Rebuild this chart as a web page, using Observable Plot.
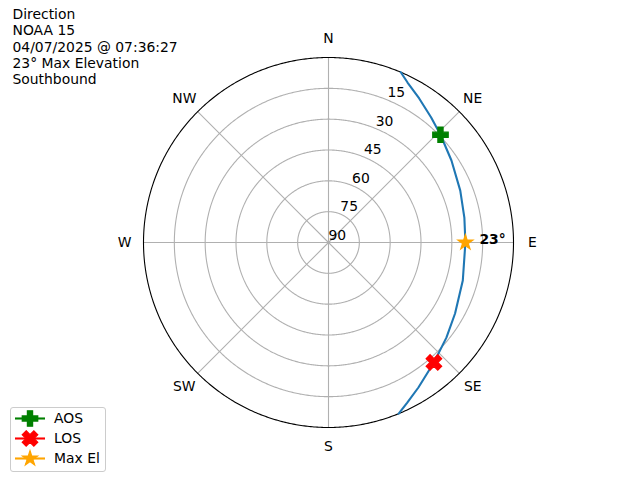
<!DOCTYPE html>
<html><head><meta charset="utf-8">
<script src="https://cdn.jsdelivr.net/npm/d3@7"></script>
<script src="https://cdn.jsdelivr.net/npm/@observablehq/plot@0.6"></script>
<style>
body{margin:0;background:#fff;font-family:"DejaVu Sans",sans-serif;}
#wrap{position:relative;width:640px;height:480px;overflow:hidden;}
#legend{position:absolute;left:10px;top:406.5px;width:96px;height:65px;border:1px solid #cccccc;border-radius:3px;background:rgba(255,255,255,0.8);box-sizing:border-box;font-size:13.9px;color:#000;}
#legend svg{position:absolute;left:3px;top:0;}
#legend span{position:absolute;left:43px;line-height:20px;white-space:nowrap;}
</style></head><body><div id="wrap"></div>
<script>
// ---- data ----
const titleLines = ["Direction", "NOAA 15", "04/07/2025 @ 07:36:27", "23° Max Elevation", "Southbound"];
const trackAz = [23.0, 26.3, 32.2, 39.4, 46.1, 56.3, 68.5, 79.6, 90.0, 105.8, 119.3, 128.9, 138.7, 148.2, 153.8, 157.7];
const trackEl = [0.0, 3.2, 7.2, 11.3, 14.4, 18.1, 21.1, 22.8, 23.4, 22.1, 19.4, 16.3, 12.3, 7.0, 3.2, 0.0];
const eventNames = ["AOS", "LOS", "Max El"];
const eventAz = [46.1, 138.7, 90.0];
const eventEl = [14.4, 12.3, 23.4];
const eventColors = ["green", "red", "orange"];
const ringEl = [75, 60, 45, 30, 15];
const radialLabelEl = [90, 75, 60, 45, 30, 15];
const compassNames = ["N", "NE", "E", "SE", "S", "SW", "W", "NW"];
const compassAz = [0, 45, 90, 135, 180, 225, 270, 315];
const maxElLabel = "23°";

// ---- marker shapes (matplotlib-like filled plus, filled X, star) ----
function poly(ctx, pts){ ctx.moveTo(pts[0][0], pts[0][1]); for (let i = 1; i < pts.length; i++) ctx.lineTo(pts[i][0], pts[i][1]); ctx.closePath(); }
const plusFilled = {draw(ctx, size){ const s = Math.sqrt(size/Math.PI), a = s/3;
  poly(ctx, [[-a,-s],[a,-s],[a,-a],[s,-a],[s,a],[a,a],[a,s],[-a,s],[-a,a],[-s,a],[-s,-a],[-a,-a]]); }};
const xFilled = {draw(ctx, size){ const k = Math.sqrt(size/Math.PI)/2;
  poly(ctx, [[-1,-2],[0,-1],[1,-2],[2,-1],[1,0],[2,1],[1,2],[0,1],[-1,2],[-2,1],[-1,0],[-2,-1]].map(([x,y]) => [x*k, y*k])); }};
const starFilled = {draw(ctx, size){ const s = Math.sqrt(size/Math.PI), inner = 0.381966*s; const pts = [];
  for (let i = 0; i < 10; i++){ const r = i % 2 ? inner : s; const a = -Math.PI/2 + i*Math.PI/5; pts.push([r*Math.cos(a), r*Math.sin(a)]); }
  poly(ctx, pts); }};
const eventSymbols = [plusFilled, xFilled, starFilled];
const markerR = 7.7;

// ---- tables ----
const track = trackAz.map((az, i) => ({az, el: trackEl[i]}));
const events = eventNames.map((name, i) => ({name, az: eventAz[i], el: eventEl[i], color: eventColors[i], symbol: eventSymbols[i]}));
const circle = r => d3.geoCircle().center([0, 90]).radius(r).precision(0.5)();

const projection = {
  type: () => d3.geoAzimuthalEquidistant().rotate([180, -90]),
  domain: circle(90),
  clip: false
};

const fs = 13.9;
const chart = Plot.plot({
  width: 640, height: 480,
  marginLeft: 143, marginRight: 127, marginTop: 57, marginBottom: 53,
  projection,
  style: {fontFamily: "DejaVu Sans", fontSize: fs + "px", background: "white"},
  marks: [
    Plot.geo(ringEl.map(e => circle(90 - e)), {stroke: "#b0b0b0", strokeWidth: 1.1, fill: "none"}),
    Plot.link(compassAz, {x1: d => -d, y1: 90, x2: d => -d, y2: 0, stroke: "#b0b0b0", strokeWidth: 1.1}),
    Plot.geo([circle(90)], {stroke: "black", strokeWidth: 1.1, fill: "none"}),
    Plot.line(track, {x: d => -d.az, y: "el", stroke: "#1f77b4", strokeWidth: 2.1}),
    ...events.map(ev => Plot.dot([ev], {x: d => -d.az, y: "el", symbol: ev.symbol, r: markerR, fill: ev.color, stroke: ev.color, strokeWidth: 1.3})),
    Plot.text(compassNames, {x: (d, i) => -compassAz[i], y: -9.2, text: d => d, fontSize: fs}),
    Plot.text(radialLabelEl, {x: -22.5, y: d => d, text: d => String(d), textAnchor: "start", lineAnchor: "bottom", dx: 0, dy: -3, fontSize: fs}),
    Plot.text([events[2]], {x: d => -d.az, y: "el", text: () => maxElLabel, textAnchor: "start", dx: 14, dy: -3, fontWeight: "bold", fontSize: fs}),
    Plot.text([titleLines.join("\n")], {frameAnchor: "top-left", dx: -131, dy: -50, lineHeight: 1.176, textAnchor: "start", lineAnchor: "top", fontSize: fs})
  ]
});
const wrap = document.getElementById("wrap");
wrap.appendChild(chart);

// ---- legend ----
const legend = document.createElement("div");
legend.id = "legend";
const ns = "http://www.w3.org/2000/svg";
const lsvg = document.createElementNS(ns, "svg");
lsvg.setAttribute("width", 32); lsvg.setAttribute("height", 64);
events.forEach((ev, i) => {
  const cy = 10.5 + 20*i;
  const line = document.createElementNS(ns, "line");
  line.setAttribute("x1", 1); line.setAttribute("x2", 31); line.setAttribute("y1", cy); line.setAttribute("y2", cy);
  line.setAttribute("stroke", ev.color); line.setAttribute("stroke-width", 2.1);
  lsvg.appendChild(line);
  const p = document.createElementNS(ns, "path");
  p.setAttribute("d", d3.symbol(ev.symbol, markerR*markerR*Math.PI)());
  p.setAttribute("transform", `translate(16,${cy})`);
  p.setAttribute("fill", ev.color); p.setAttribute("stroke", ev.color); p.setAttribute("stroke-width", 1.3);
  lsvg.appendChild(p);
  const sp = document.createElement("span");
  sp.textContent = ev.name; sp.style.top = (0.5 + 20*i) + "px";
  legend.appendChild(sp);
});
legend.appendChild(lsvg);
wrap.appendChild(legend);
</script></body></html>
